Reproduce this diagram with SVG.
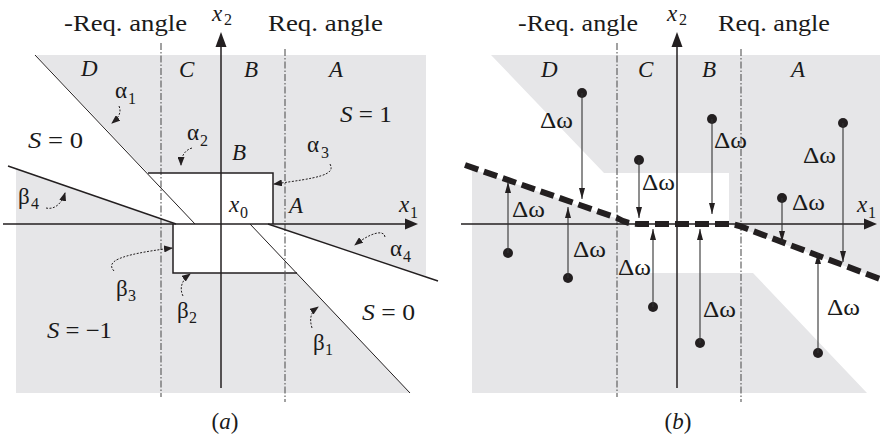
<svg xmlns="http://www.w3.org/2000/svg" width="880" height="441" viewBox="0 0 880 441" font-family="Liberation Serif, serif">
<defs>
<style>
.t{font-family:'Liberation Serif',serif;font-size:23px;fill:#1a1a1a}
.i{font-style:italic}
.sub{font-family:'Liberation Serif',serif;font-size:16px;fill:#1a1a1a}
.gray{fill:#e6e6e8;stroke:none}
.ax{stroke:#231f20;stroke-width:1.5;fill:none}
.thin{stroke:#231f20;stroke-width:1;fill:none}
.bd{stroke:#231f20;stroke-width:1.4;fill:none}
.dd{stroke:#555;stroke-width:1.1;fill:none;stroke-dasharray:7 2 1.5 2}
.cv{stroke:#231f20;stroke-width:1;fill:none;stroke-dasharray:2 1.5;marker-end:url(#sm)}
.dw{stroke:#333;stroke-width:1.1;fill:none;marker-end:url(#am)}
.thick{stroke:#231f20;stroke-width:6;fill:none;stroke-dasharray:14 6}
</style>
<marker id="sm" viewBox="0 0 9 7" refX="8" refY="3.5" markerWidth="9" markerHeight="7" markerUnits="userSpaceOnUse" orient="auto">
<path d="M0,0 L9,3.5 L0,7 Z" fill="#231f20"/>
</marker>
<marker id="am" viewBox="0 0 11 6" refX="11" refY="3" markerWidth="11" markerHeight="6" markerUnits="userSpaceOnUse" orient="auto">
<path d="M0,0 L11,3 L0,6 Z" fill="#231f20"/>
</marker>
</defs>
<rect width="880" height="441" fill="#fff"/>

<!-- Panel (a) -->
<g id="panel-a">
<g id="a-regions">
<polygon class="gray" points="36,55 426,55 426,276 273,225 273,173 148,173"/>
<polygon class="gray" points="16,168 173,224 173,273 297,273 410,393 16,393"/>
</g>
<g id="a-guides">
<line class="dd" x1="161" y1="43" x2="161" y2="397"/>
<line class="dd" x1="285" y1="49" x2="285" y2="402"/>
</g>
<g id="a-boundaries">
<line class="thin" x1="35" y1="55" x2="195" y2="224"/>
<line class="thin" x1="250" y1="224" x2="410" y2="393"/>
<line class="bd" x1="8" y1="166" x2="176" y2="224"/>
<line class="bd" x1="268" y1="224" x2="438" y2="281"/>
<path class="ax" d="M148,173 L273,173 L273,224"/>
<path class="ax" d="M173,224 L173,273 L297,273"/>
</g>
<g id="a-axes">
<line class="ax" x1="3" y1="224" x2="406" y2="224"/>
<polygon points="418,224 405,218.5 405,229.5" fill="#231f20"/>
<line class="ax" x1="221" y1="388" x2="221" y2="46"/>
<polygon points="221,32 215.5,47 226.5,47" fill="#231f20"/>
</g>
<g id="a-labels" font-family="Liberation Serif, serif">
<text class="t" x="64" y="31" textLength="123" lengthAdjust="spacingAndGlyphs">-Req. angle</text>
<text class="t" x="268" y="31" textLength="115" lengthAdjust="spacingAndGlyphs">Req. angle</text>
<text class="t i" x="212" y="21">x</text><text class="sub" x="224" y="25">2</text>
<text class="t i" x="399" y="212">x</text><text class="sub" x="410" y="218">1</text>
<text class="t i" x="229" y="212">x</text><text class="sub" x="240" y="218">0</text>
<text class="t i" x="81" y="76">D</text>
<text class="t i" x="179" y="77">C</text>
<text class="t i" x="244" y="77">B</text>
<text class="t i" x="329" y="77">A</text>
<text class="t i" x="232" y="160">B</text>
<text class="t i" x="289" y="213">A</text>
<text class="t" x="28" y="148" textLength="55" lengthAdjust="spacingAndGlyphs"><tspan class="i">S</tspan> = 0</text>
<text class="t" x="340" y="122" textLength="52" lengthAdjust="spacingAndGlyphs"><tspan class="i">S</tspan> = 1</text>
<text class="t" x="362" y="320" textLength="53" lengthAdjust="spacingAndGlyphs"><tspan class="i">S</tspan> = 0</text>
<text class="t" x="47" y="338" textLength="65" lengthAdjust="spacingAndGlyphs"><tspan class="i">S</tspan> = −1</text>
<text class="t" x="115" y="98">α</text><text class="sub" x="128" y="104">1</text>
<text class="t" x="187" y="140">α</text><text class="sub" x="200" y="146">2</text>
<text class="t" x="307" y="152">α</text><text class="sub" x="321" y="158">3</text>
<text class="t" x="390" y="256">α</text><text class="sub" x="403" y="262">4</text>
<text class="t" x="18" y="204">β</text><text class="sub" x="31" y="209">4</text>
<text class="t" x="116" y="296">β</text><text class="sub" x="128" y="301">3</text>
<text class="t" x="177" y="318">β</text><text class="sub" x="189" y="323">2</text>
<text class="t" x="313" y="350">β</text><text class="sub" x="325" y="355">1</text>
<text class="t" x="225" y="429" text-anchor="middle">(<tspan class="i">a</tspan>)</text>
</g>
</g>

<!-- Panel (b) -->
<g id="panel-b">
<g id="b-regions">
<polygon class="gray" points="491,55 880,55 880,279 729,224 729,173 604,173"/>
<polygon class="gray" points="472,169 630,223 630,273 753,273 867,393 472,393"/>
</g>
<g id="b-guides">
<line class="dd" x1="617" y1="43" x2="617" y2="397"/>
<line class="dd" x1="741" y1="49" x2="741" y2="402"/>
</g>
<g id="b-axes">
<line class="ax" x1="461" y1="224" x2="865" y2="224"/>
<polygon points="877,224 864,218.5 864,229.5" fill="#231f20"/>
<line class="ax" x1="677" y1="388" x2="677" y2="46"/>
<polygon points="677,32 671.5,47 682.5,47" fill="#231f20"/>
</g>
<g id="b-curve">
<path class="thick" d="M465,165 L617,218 Q627,224 638,224 L729,224 Q735,224 745,228 L880,279"/>
</g>
<g id="b-points" fill="#231f20">
<circle cx="582" cy="93" r="5"/>
<circle cx="639" cy="160" r="5"/>
<circle cx="712" cy="119" r="5"/>
<circle cx="843" cy="123" r="5"/>
<circle cx="782" cy="198" r="5"/>
<circle cx="508" cy="253" r="5"/>
<circle cx="568" cy="278" r="5"/>
<circle cx="653" cy="307" r="5"/>
<circle cx="700" cy="343" r="5"/>
<circle cx="818" cy="353" r="5"/>
</g>
<g id="b-labels" font-family="Liberation Serif, serif">
<text class="t" x="518" y="31" textLength="120" lengthAdjust="spacingAndGlyphs">-Req. angle</text>
<text class="t" x="718" y="31" textLength="112" lengthAdjust="spacingAndGlyphs">Req. angle</text>
<text class="t i" x="667" y="21">x</text><text class="sub" x="679" y="25">2</text>
<text class="t i" x="857" y="212">x</text><text class="sub" x="868" y="218">1</text>
<text class="t i" x="541" y="77">D</text>
<text class="t i" x="638" y="77">C</text>
<text class="t i" x="702" y="77">B</text>
<text class="t i" x="791" y="77">A</text>
<text class="t" x="540" y="128" textLength="33" lengthAdjust="spacingAndGlyphs">Δω</text>
<text class="t" x="642" y="190" textLength="33" lengthAdjust="spacingAndGlyphs">Δω</text>
<text class="t" x="714" y="148" textLength="33" lengthAdjust="spacingAndGlyphs">Δω</text>
<text class="t" x="803" y="163" textLength="33" lengthAdjust="spacingAndGlyphs">Δω</text>
<text class="t" x="792" y="210" textLength="33" lengthAdjust="spacingAndGlyphs">Δω</text>
<text class="t" x="512" y="217" textLength="33" lengthAdjust="spacingAndGlyphs">Δω</text>
<text class="t" x="573" y="257" textLength="33" lengthAdjust="spacingAndGlyphs">Δω</text>
<text class="t" x="618" y="275" textLength="33" lengthAdjust="spacingAndGlyphs">Δω</text>
<text class="t" x="703" y="317" textLength="33" lengthAdjust="spacingAndGlyphs">Δω</text>
<text class="t" x="827" y="315" textLength="33" lengthAdjust="spacingAndGlyphs">Δω</text>
<text class="t" x="678" y="429" text-anchor="middle">(<tspan class="i">b</tspan>)</text>
</g>
</g>

<g id="connectors">
<path class="cv" d="M119,106 C122,113 118,118 112,123"/>
<path class="cv" d="M192,148 C185,150 181,156 181,165"/>
<path class="cv" d="M330,164 C336,175 318,178 274,184"/>
<path class="cv" d="M385,237 C384,229 370,233 355,245"/>
<path class="cv" d="M46,208 C55,210 62,203 65,193"/>
<path class="cv" d="M114,271 C106,262 116,255 172,248"/>
<path class="cv" d="M183,296 C179,288 182,280 190,274"/>
<path class="cv" d="M312,328 C309,318 311,312 318,307"/>
<line class="dw" x1="582" y1="93" x2="582" y2="199"/>
<line class="dw" x1="639" y1="160" x2="639" y2="218"/>
<line class="dw" x1="712" y1="119" x2="712" y2="214"/>
<line class="dw" x1="843" y1="123" x2="843" y2="262"/>
<line class="dw" x1="782" y1="198" x2="782" y2="242"/>
<line class="dw" x1="508" y1="253" x2="508" y2="182"/>
<line class="dw" x1="568" y1="278" x2="568" y2="207"/>
<line class="dw" x1="653" y1="307" x2="653" y2="229"/>
<line class="dw" x1="700" y1="343" x2="700" y2="229"/>
<line class="dw" x1="818" y1="353" x2="818" y2="253"/>
</g>
</svg>
